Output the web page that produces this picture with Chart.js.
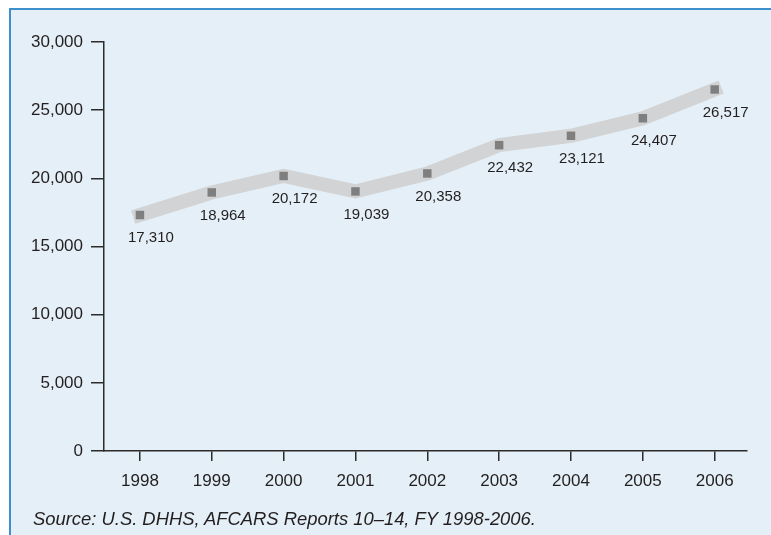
<!DOCTYPE html>
<html>
<head>
<meta charset="utf-8">
<script src="https://cdn.jsdelivr.net/npm/chart.js@4/dist/chart.umd.min.js"></script>
<style>
  html, body { margin: 0; padding: 0; background: #fff; }
  body { width: 771px; height: 535px; position: relative; overflow: hidden; }
  #frame {
    position: absolute; left: 9px; top: 8px; width: 800px; height: 600px;
    background: #e4eff7; border-left: 2px solid #3d8fcd; border-top: 2px solid #3d8fcd;
  }
  #chart { position: absolute; left: 0; top: 0; }
  #source {
    position: absolute; left: 33px; top: 508px;
    font: italic 18.4px "Liberation Sans", Arial, sans-serif; color: #231f20;
  }
</style>
</head>
<body>
<div id="frame"></div>
<canvas id="chart" width="771" height="535"></canvas>
<div id="source">Source: U.S. DHHS, AFCARS Reports 10–14, FY 1998-2006.</div>
<script>
// dados
const years = [1998, 1999, 2000, 2001, 2002, 2003, 2004, 2005, 2006];
const counts = [17310, 18964, 20172, 19039, 20358, 22432, 23121, 24407, 26517];
const yTicks = [0, 5000, 10000, 15000, 20000, 25000, 30000];

const points = years.map((y, i) => ({ x: y, y: counts[i] }));
const fmt = new Intl.NumberFormat("en-US");

/* rótulos de valor sob cada ponto */
const valueLabels = {
  id: "valueLabels",
  afterDatasetsDraw(chart) {
    const ctx = chart.ctx;
    const meta = chart.getDatasetMeta(1);
    ctx.save();
    ctx.font = '15px "Liberation Sans", Arial, sans-serif';
    ctx.fillStyle = "#231f20";
    ctx.textAlign = "center";
    ctx.textBaseline = "middle";
    meta.data.forEach((pt, i) => {
      ctx.fillText(fmt.format(counts[i]), pt.x + 11, pt.y + 23);
    });
    ctx.restore();
  }
};

new Chart(document.getElementById("chart"), {
  type: "line",
  data: {
    datasets: [
      {
        data: points,
        order: 2,
        borderColor: "#d2d3d4",
        borderWidth: 14,
        borderCapStyle: "square",
        borderJoinStyle: "miter",
        pointRadius: 0,
        tension: 0
      },
      {
        data: points,
        order: 1,
        showLine: false,
        pointStyle: "rect",
        pointRadius: 6,
        pointBorderWidth: 0,
        pointBackgroundColor: "#7f7f7f"
      }
    ]
  },
  options: {
    responsive: false,
    animation: false,
    locale: "en-US",
    layout: { padding: { left: 0, top: 42, right: 24, bottom: 44 } },
    plugins: { legend: { display: false }, tooltip: { enabled: false } },
    scales: {
      x: {
        type: "linear",
        min: 1997.5,
        max: 2006.45,
        afterBuildTicks: scale => { scale.ticks = years.map(v => ({ value: v })); },
        afterFit: scale => { scale.height = 40; },
        grid: { drawOnChartArea: false, tickLength: 10, color: "#2b2b2b", lineWidth: 1.5 },
        border: { color: "#2b2b2b", width: 1.5 },
        ticks: {
          padding: 10,
          color: "#231f20",
          font: { family: '"Liberation Sans", Arial, sans-serif', size: 17 },
          callback: v => String(v)
        }
      },
      y: {
        min: 0,
        max: 30000,
        afterBuildTicks: scale => { scale.ticks = yTicks.map(v => ({ value: v })); },
        afterFit: scale => { scale.width = 104; },
        grid: { drawOnChartArea: false, tickLength: 13, color: "#2b2b2b", lineWidth: 1.5 },
        border: { color: "#2b2b2b", width: 1.5 },
        ticks: {
          padding: 8,
          color: "#231f20",
          font: { family: '"Liberation Sans", Arial, sans-serif', size: 17 },
          callback: v => fmt.format(v)
        }
      }
    }
  },
  plugins: [valueLabels]
});
</script>
</body>
</html>
